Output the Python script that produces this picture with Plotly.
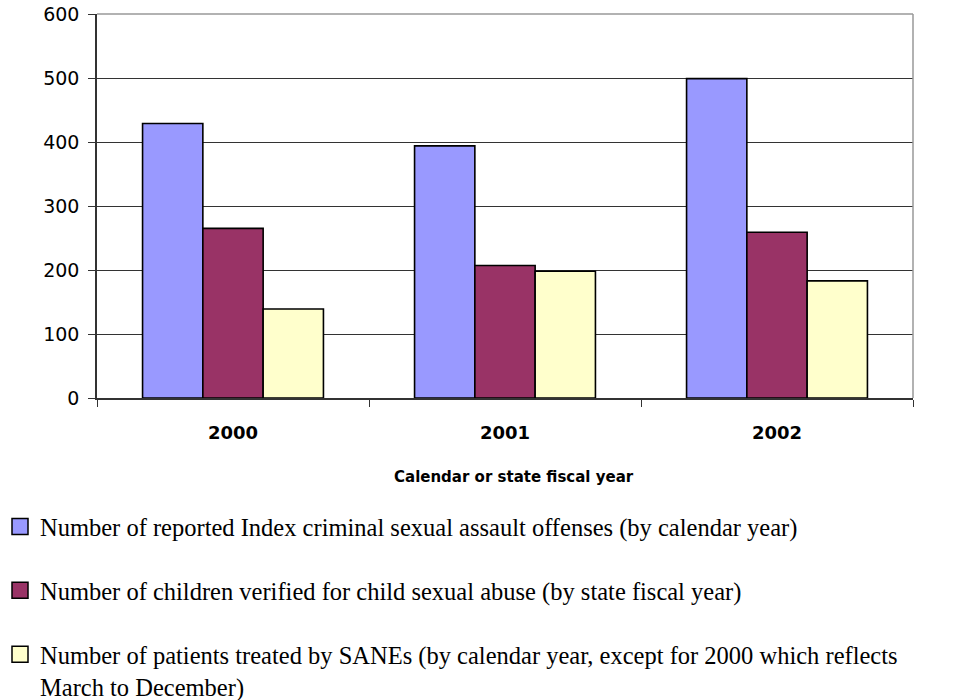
import plotly.graph_objects as go

years = ["2000", "2001", "2002"]
series_names = [
    "Number of reported Index criminal sexual assault offenses (by calendar year)",
    "Number of children verified for child sexual abuse (by state fiscal year)",
    "Number of patients treated by SANEs (by calendar year, except for 2000 which reflects<br>March to December)",
]
assault_offenses = [429, 394, 499]
children_verified = [265, 207, 259]
sane_patients = [139, 198, 183]
y_ticks = [0, 100, 200, 300, 400, 500, 600]
x_title = "Calendar or state fiscal year"

colors = ["#9999FF", "#993366", "#FFFFCC"]
series_values = [assault_offenses, children_verified, sane_patients]

# plot-area geometry in pixels (for placing items given in paper units)
W, H = 961, 700
ML, MR, MT, MB = 97, 48, 14, 302
PW, PH = W - ML - MR, H - MT - MB


def px_to_paper_x(px):
    return (px - ML) / PW


def px_to_paper_y(py):
    return (H - MB - py) / PH


fig = go.Figure()
for name, vals, col in zip(series_names, series_values, colors):
    fig.add_trace(go.Bar(
        x=years, y=vals, name=name, showlegend=False,
        marker=dict(color=col, line=dict(color="#000000", width=1.6)),
    ))
# legend entries (larger square swatches), no visible points
for i, (name, col) in enumerate(zip(series_names, colors)):
    fig.add_trace(go.Scatter(
        x=years, y=[None] * len(years), mode="markers", name=name, legendgroup=f"g{i}",
        marker=dict(symbol="square", size=16, color=col,
                    line=dict(color="#000000", width=1.5)),
        hoverinfo="skip",
    ))

fig.update_layout(
    width=W, height=H, autosize=False,
    margin=dict(l=ML, r=MR, t=MT, b=MB, pad=0, autoexpand=False),
    paper_bgcolor="white", plot_bgcolor="white",
    barmode="group", bargap=0.335, bargroupgap=0,
    font=dict(family="DejaVu Sans", color="#000000"),
    showlegend=True,
    legend=dict(
        xref="paper", yref="paper", x=px_to_paper_x(0), y=px_to_paper_y(504),
        xanchor="left", yanchor="top", orientation="v",
        traceorder="grouped", tracegroupgap=29, valign="top",
        font=dict(family="Liberation Serif", size=24.5, color="#000000"),
        bgcolor="rgba(0,0,0,0)", borderwidth=0, itemwidth=30,
    ),
    xaxis=dict(
        type="category", categoryorder="array", categoryarray=years,
        range=[-0.5, len(years) - 0.5],
        tickson="boundaries", ticks="outside", ticklen=7,
        tickcolor="#333333", showline=True, linecolor="#333333", linewidth=1.5,
        showgrid=False, zeroline=False,
        tickfont=dict(family="DejaVu Sans", size=18, weight="bold", color="#000000"),
        ticklabelstandoff=18,
    ),
    yaxis=dict(
        range=[0, 600], tickvals=y_ticks, ticktext=[str(v) for v in y_ticks],
        ticks="outside", ticklen=7, tickcolor="#333333",
        showline=True, linecolor="#333333", linewidth=1.5,
        showgrid=True, gridcolor="#333333", gridwidth=1, zeroline=False,
        tickfont=dict(family="DejaVu Sans", size=19, color="#000000"),
        ticklabelstandoff=5,
    ),
    shapes=[
        dict(type="line", xref="paper", yref="paper", x0=0, x1=1, y0=1, y1=1,
             line=dict(color="#999999", width=1.5), layer="above"),
        dict(type="line", xref="paper", yref="paper", x0=1, x1=1, y0=0, y1=1,
             line=dict(color="#999999", width=1.5), layer="above"),
    ],
    annotations=[
        dict(text=x_title, xref="paper", yref="paper",
             x=px_to_paper_x(514), y=px_to_paper_y(477),
             xanchor="center", yanchor="middle", showarrow=False,
             font=dict(family="DejaVu Sans", size=15, weight="bold", color="#000000")),
    ],
)

fig.write_html("out.html")
